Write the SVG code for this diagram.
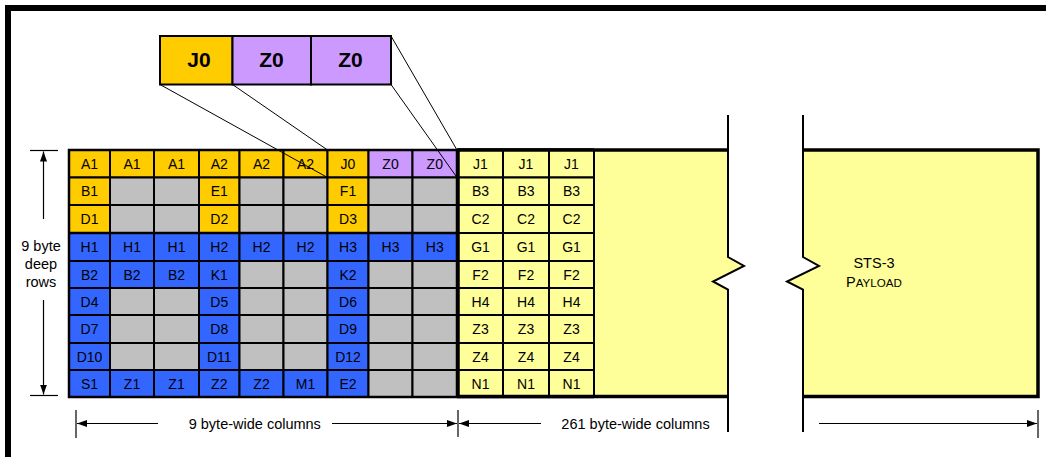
<svg xmlns="http://www.w3.org/2000/svg" width="1046" height="457" viewBox="0 0 1046 457">
<defs>
<style>
text{font-family:"Liberation Sans",Arial,sans-serif;fill:#000}
.t{font-size:14px;text-anchor:middle}
.d{font-size:14.5px}
.big{font-size:21px;font-weight:bold;text-anchor:middle}
rect.c{stroke:#000;stroke-width:2}
.g{fill:#FFCC00}.p{fill:#CC99FF}.b{fill:#3366FF}.e{fill:#C0C0C0}.y{fill:#FFFF99}
.thin{stroke:#000;stroke-width:1;fill:none}
.dim{stroke:#000;stroke-width:1.2;fill:none}
.brk{stroke:#000;stroke-width:2;fill:none}
.thick{stroke:#000;stroke-width:3.5;fill:none}
</style>
<marker id="arr" markerUnits="userSpaceOnUse" markerWidth="11" markerHeight="8" refX="10" refY="3.5" orient="auto"><path d="M0,0 L10,3.5 L0,7 Z" fill="#000"/></marker>
</defs>
<rect width="1046" height="457" fill="#fff"/>
<path d="M8,457 L8,8 L1046,8" stroke="#000" stroke-width="6" fill="none"/>

<g id="payload1">
<path class="y" d="M457,150 L728,150 L728,257 L744,266 L713,281.5 L728,289.5 L728,397 L457,397 Z"/>
<path class="thick" d="M457,150 L728,150 M457,396.5 L728,396.5"/>
<path class="brk" d="M728,115 L728,257 L744,266 L713,281.5 L728,289.5 L728,432"/>
</g>
<g id="payload2">
<path class="y" d="M803,150 L1038,150 L1038,396.5 L803,396.5 L803,289.5 L787,281.5 L819,266 L803,257 Z"/>
<path class="thick" d="M803,150 L1038,150 L1038,396.5 L803,396.5"/>
<path class="brk" d="M803,115 L803,257 L819,266 L787,281.5 L803,289.5 L803,432"/>
<text class="d" x="874" y="268" text-anchor="middle">STS-3</text>
<text x="874" y="287" text-anchor="middle" font-size="14.5">P<tspan font-size="11.6">AYLOAD</tspan></text>
</g>

<g id="zoombox">
<g id="zb-j0"><rect class="c g" x="160" y="36" width="72.5" height="48.5"/><text class="big" x="199" y="67">J0</text></g>
<g id="zb-z0a"><rect class="c p" x="232.5" y="36" width="78.5" height="48.5"/><text class="big" x="271.5" y="67">Z0</text></g>
<g id="zb-z0b"><rect class="c p" x="311" y="36" width="80" height="48.5"/><text class="big" x="350.5" y="67">Z0</text></g>
</g>

<g id="toh">
<g id="r1c1"><rect class="c g" x="69" y="150" width="41" height="27.5"/><text class="t" x="89.5" y="168.8">A1</text></g>
<g id="r1c2"><rect class="c g" x="110" y="150" width="44" height="27.5"/><text class="t" x="132" y="168.8">A1</text></g>
<g id="r1c3"><rect class="c g" x="154" y="150" width="45" height="27.5"/><text class="t" x="176.5" y="168.8">A1</text></g>
<g id="r1c4"><rect class="c g" x="199" y="150" width="40.5" height="27.5"/><text class="t" x="219.25" y="168.8">A2</text></g>
<g id="r1c5"><rect class="c g" x="239.5" y="150" width="44" height="27.5"/><text class="t" x="261.5" y="168.8">A2</text></g>
<g id="r1c6"><rect class="c g" x="283.5" y="150" width="44" height="27.5"/><text class="t" x="305.5" y="168.8">A2</text></g>
<g id="r1c7"><rect class="c g" x="327.5" y="150" width="41" height="27.5"/><text class="t" x="348" y="168.8">J0</text></g>
<g id="r1c8"><rect class="c p" x="368.5" y="150" width="44" height="27.5"/><text class="t" x="390.5" y="168.8">Z0</text></g>
<g id="r1c9"><rect class="c p" x="412.5" y="150" width="44.5" height="27.5"/><text class="t" x="434.75" y="168.8">Z0</text></g>

<g id="r2c1"><rect class="c g" x="69" y="177.5" width="41" height="27.5"/><text class="t" x="89.5" y="196.3">B1</text></g>
<g id="r2c2"><rect class="c e" x="110" y="177.5" width="44" height="27.5"/></g>
<g id="r2c3"><rect class="c e" x="154" y="177.5" width="45" height="27.5"/></g>
<g id="r2c4"><rect class="c g" x="199" y="177.5" width="40.5" height="27.5"/><text class="t" x="219.25" y="196.3">E1</text></g>
<g id="r2c5"><rect class="c e" x="239.5" y="177.5" width="44" height="27.5"/></g>
<g id="r2c6"><rect class="c e" x="283.5" y="177.5" width="44" height="27.5"/></g>
<g id="r2c7"><rect class="c g" x="327.5" y="177.5" width="41" height="27.5"/><text class="t" x="348" y="196.3">F1</text></g>
<g id="r2c8"><rect class="c e" x="368.5" y="177.5" width="44" height="27.5"/></g>
<g id="r2c9"><rect class="c e" x="412.5" y="177.5" width="44.5" height="27.5"/></g>

<g id="r3c1"><rect class="c g" x="69" y="205" width="41" height="28"/><text class="t" x="89.5" y="224">D1</text></g>
<g id="r3c2"><rect class="c e" x="110" y="205" width="44" height="28"/></g>
<g id="r3c3"><rect class="c e" x="154" y="205" width="45" height="28"/></g>
<g id="r3c4"><rect class="c g" x="199" y="205" width="40.5" height="28"/><text class="t" x="219.25" y="224">D2</text></g>
<g id="r3c5"><rect class="c e" x="239.5" y="205" width="44" height="28"/></g>
<g id="r3c6"><rect class="c e" x="283.5" y="205" width="44" height="28"/></g>
<g id="r3c7"><rect class="c g" x="327.5" y="205" width="41" height="28"/><text class="t" x="348" y="224">D3</text></g>
<g id="r3c8"><rect class="c e" x="368.5" y="205" width="44" height="28"/></g>
<g id="r3c9"><rect class="c e" x="412.5" y="205" width="44.5" height="28"/></g>

<g id="r4c1"><rect class="c b" x="69" y="233" width="41" height="28"/><text class="t" x="89.5" y="252">H1</text></g>
<g id="r4c2"><rect class="c b" x="110" y="233" width="44" height="28"/><text class="t" x="132" y="252">H1</text></g>
<g id="r4c3"><rect class="c b" x="154" y="233" width="45" height="28"/><text class="t" x="176.5" y="252">H1</text></g>
<g id="r4c4"><rect class="c b" x="199" y="233" width="40.5" height="28"/><text class="t" x="219.25" y="252">H2</text></g>
<g id="r4c5"><rect class="c b" x="239.5" y="233" width="44" height="28"/><text class="t" x="261.5" y="252">H2</text></g>
<g id="r4c6"><rect class="c b" x="283.5" y="233" width="44" height="28"/><text class="t" x="305.5" y="252">H2</text></g>
<g id="r4c7"><rect class="c b" x="327.5" y="233" width="41" height="28"/><text class="t" x="348" y="252">H3</text></g>
<g id="r4c8"><rect class="c b" x="368.5" y="233" width="44" height="28"/><text class="t" x="390.5" y="252">H3</text></g>
<g id="r4c9"><rect class="c b" x="412.5" y="233" width="44.5" height="28"/><text class="t" x="434.75" y="252">H3</text></g>

<g id="r5c1"><rect class="c b" x="69" y="261" width="41" height="27"/><text class="t" x="89.5" y="279.5">B2</text></g>
<g id="r5c2"><rect class="c b" x="110" y="261" width="44" height="27"/><text class="t" x="132" y="279.5">B2</text></g>
<g id="r5c3"><rect class="c b" x="154" y="261" width="45" height="27"/><text class="t" x="176.5" y="279.5">B2</text></g>
<g id="r5c4"><rect class="c b" x="199" y="261" width="40.5" height="27"/><text class="t" x="219.25" y="279.5">K1</text></g>
<g id="r5c5"><rect class="c e" x="239.5" y="261" width="44" height="27"/></g>
<g id="r5c6"><rect class="c e" x="283.5" y="261" width="44" height="27"/></g>
<g id="r5c7"><rect class="c b" x="327.5" y="261" width="41" height="27"/><text class="t" x="348" y="279.5">K2</text></g>
<g id="r5c8"><rect class="c e" x="368.5" y="261" width="44" height="27"/></g>
<g id="r5c9"><rect class="c e" x="412.5" y="261" width="44.5" height="27"/></g>

<g id="r6c1"><rect class="c b" x="69" y="288" width="41" height="27"/><text class="t" x="89.5" y="306.5">D4</text></g>
<g id="r6c2"><rect class="c e" x="110" y="288" width="44" height="27"/></g>
<g id="r6c3"><rect class="c e" x="154" y="288" width="45" height="27"/></g>
<g id="r6c4"><rect class="c b" x="199" y="288" width="40.5" height="27"/><text class="t" x="219.25" y="306.5">D5</text></g>
<g id="r6c5"><rect class="c e" x="239.5" y="288" width="44" height="27"/></g>
<g id="r6c6"><rect class="c e" x="283.5" y="288" width="44" height="27"/></g>
<g id="r6c7"><rect class="c b" x="327.5" y="288" width="41" height="27"/><text class="t" x="348" y="306.5">D6</text></g>
<g id="r6c8"><rect class="c e" x="368.5" y="288" width="44" height="27"/></g>
<g id="r6c9"><rect class="c e" x="412.5" y="288" width="44.5" height="27"/></g>

<g id="r7c1"><rect class="c b" x="69" y="315" width="41" height="28"/><text class="t" x="89.5" y="334">D7</text></g>
<g id="r7c2"><rect class="c e" x="110" y="315" width="44" height="28"/></g>
<g id="r7c3"><rect class="c e" x="154" y="315" width="45" height="28"/></g>
<g id="r7c4"><rect class="c b" x="199" y="315" width="40.5" height="28"/><text class="t" x="219.25" y="334">D8</text></g>
<g id="r7c5"><rect class="c e" x="239.5" y="315" width="44" height="28"/></g>
<g id="r7c6"><rect class="c e" x="283.5" y="315" width="44" height="28"/></g>
<g id="r7c7"><rect class="c b" x="327.5" y="315" width="41" height="28"/><text class="t" x="348" y="334">D9</text></g>
<g id="r7c8"><rect class="c e" x="368.5" y="315" width="44" height="28"/></g>
<g id="r7c9"><rect class="c e" x="412.5" y="315" width="44.5" height="28"/></g>

<g id="r8c1"><rect class="c b" x="69" y="343" width="41" height="27"/><text class="t" x="89.5" y="361.5">D10</text></g>
<g id="r8c2"><rect class="c e" x="110" y="343" width="44" height="27"/></g>
<g id="r8c3"><rect class="c e" x="154" y="343" width="45" height="27"/></g>
<g id="r8c4"><rect class="c b" x="199" y="343" width="40.5" height="27"/><text class="t" x="219.25" y="361.5">D11</text></g>
<g id="r8c5"><rect class="c e" x="239.5" y="343" width="44" height="27"/></g>
<g id="r8c6"><rect class="c e" x="283.5" y="343" width="44" height="27"/></g>
<g id="r8c7"><rect class="c b" x="327.5" y="343" width="41" height="27"/><text class="t" x="348" y="361.5">D12</text></g>
<g id="r8c8"><rect class="c e" x="368.5" y="343" width="44" height="27"/></g>
<g id="r8c9"><rect class="c e" x="412.5" y="343" width="44.5" height="27"/></g>

<g id="r9c1"><rect class="c b" x="69" y="370" width="41" height="27"/><text class="t" x="89.5" y="388.5">S1</text></g>
<g id="r9c2"><rect class="c b" x="110" y="370" width="44" height="27"/><text class="t" x="132" y="388.5">Z1</text></g>
<g id="r9c3"><rect class="c b" x="154" y="370" width="45" height="27"/><text class="t" x="176.5" y="388.5">Z1</text></g>
<g id="r9c4"><rect class="c b" x="199" y="370" width="40.5" height="27"/><text class="t" x="219.25" y="388.5">Z2</text></g>
<g id="r9c5"><rect class="c b" x="239.5" y="370" width="44" height="27"/><text class="t" x="261.5" y="388.5">Z2</text></g>
<g id="r9c6"><rect class="c b" x="283.5" y="370" width="44" height="27"/><text class="t" x="305.5" y="388.5">M1</text></g>
<g id="r9c7"><rect class="c b" x="327.5" y="370" width="41" height="27"/><text class="t" x="348" y="388.5">E2</text></g>
<g id="r9c8"><rect class="c e" x="368.5" y="370" width="44" height="27"/></g>
<g id="r9c9"><rect class="c e" x="412.5" y="370" width="44.5" height="27"/></g>
<rect x="69" y="150" width="388" height="247" fill="none" stroke="#000" stroke-width="2.5"/>
<line x1="69" y1="233" x2="457" y2="233" stroke="#000" stroke-width="2.5"/>
</g>

<g id="poh">
<g id="p1a"><rect class="c y" x="458" y="150" width="45" height="27.5"/><text class="t" x="480.5" y="168.8">J1</text></g>
<g id="p1b"><rect class="c y" x="503" y="150" width="46" height="27.5"/><text class="t" x="526" y="168.8">J1</text></g>
<g id="p1c"><rect class="c y" x="549" y="150" width="45" height="27.5"/><text class="t" x="571.5" y="168.8">J1</text></g>
<g id="p2a"><rect class="c y" x="458" y="177.5" width="45" height="27.5"/><text class="t" x="480.5" y="196.3">B3</text></g>
<g id="p2b"><rect class="c y" x="503" y="177.5" width="46" height="27.5"/><text class="t" x="526" y="196.3">B3</text></g>
<g id="p2c"><rect class="c y" x="549" y="177.5" width="45" height="27.5"/><text class="t" x="571.5" y="196.3">B3</text></g>
<g id="p3a"><rect class="c y" x="458" y="205" width="45" height="28"/><text class="t" x="480.5" y="224">C2</text></g>
<g id="p3b"><rect class="c y" x="503" y="205" width="46" height="28"/><text class="t" x="526" y="224">C2</text></g>
<g id="p3c"><rect class="c y" x="549" y="205" width="45" height="28"/><text class="t" x="571.5" y="224">C2</text></g>
<g id="p4a"><rect class="c y" x="458" y="233" width="45" height="28"/><text class="t" x="480.5" y="252">G1</text></g>
<g id="p4b"><rect class="c y" x="503" y="233" width="46" height="28"/><text class="t" x="526" y="252">G1</text></g>
<g id="p4c"><rect class="c y" x="549" y="233" width="45" height="28"/><text class="t" x="571.5" y="252">G1</text></g>
<g id="p5a"><rect class="c y" x="458" y="261" width="45" height="27"/><text class="t" x="480.5" y="279.5">F2</text></g>
<g id="p5b"><rect class="c y" x="503" y="261" width="46" height="27"/><text class="t" x="526" y="279.5">F2</text></g>
<g id="p5c"><rect class="c y" x="549" y="261" width="45" height="27"/><text class="t" x="571.5" y="279.5">F2</text></g>
<g id="p6a"><rect class="c y" x="458" y="288" width="45" height="27"/><text class="t" x="480.5" y="306.5">H4</text></g>
<g id="p6b"><rect class="c y" x="503" y="288" width="46" height="27"/><text class="t" x="526" y="306.5">H4</text></g>
<g id="p6c"><rect class="c y" x="549" y="288" width="45" height="27"/><text class="t" x="571.5" y="306.5">H4</text></g>
<g id="p7a"><rect class="c y" x="458" y="315" width="45" height="28"/><text class="t" x="480.5" y="334">Z3</text></g>
<g id="p7b"><rect class="c y" x="503" y="315" width="46" height="28"/><text class="t" x="526" y="334">Z3</text></g>
<g id="p7c"><rect class="c y" x="549" y="315" width="45" height="28"/><text class="t" x="571.5" y="334">Z3</text></g>
<g id="p8a"><rect class="c y" x="458" y="343" width="45" height="27"/><text class="t" x="480.5" y="361.5">Z4</text></g>
<g id="p8b"><rect class="c y" x="503" y="343" width="46" height="27"/><text class="t" x="526" y="361.5">Z4</text></g>
<g id="p8c"><rect class="c y" x="549" y="343" width="45" height="27"/><text class="t" x="571.5" y="361.5">Z4</text></g>
<g id="p9a"><rect class="c y" x="458" y="370" width="45" height="27"/><text class="t" x="480.5" y="388.5">N1</text></g>
<g id="p9b"><rect class="c y" x="503" y="370" width="46" height="27"/><text class="t" x="526" y="388.5">N1</text></g>
<g id="p9c"><rect class="c y" x="549" y="370" width="45" height="27"/><text class="t" x="571.5" y="388.5">N1</text></g>
<path class="thick" d="M458,150 L594,150 M458,150 L458,397 M458,396.5 L594,396.5"/>
</g>

<g id="labels">
<text class="d" x="41" y="251" text-anchor="middle">9 byte</text>
<text class="d" x="41" y="269" text-anchor="middle">deep</text>
<text class="d" x="41" y="287" text-anchor="middle">rows</text>
<text class="d" x="254.8" y="428.5" text-anchor="middle">9 byte-wide columns</text>
<text class="d" x="635.5" y="428.5" text-anchor="middle">261 byte-wide columns</text>
</g>

<g id="connectors">
<line class="thin" x1="160" y1="84.5" x2="327.5" y2="177.5"/>
<line class="thin" x1="232.5" y1="84.5" x2="327.5" y2="150"/>
<line class="thin" x1="391" y1="84.5" x2="457" y2="177.5"/>
<line class="thin" x1="391" y1="36" x2="457" y2="150"/>
<line class="dim" x1="30" y1="150.5" x2="58" y2="150.5"/>
<line class="dim" x1="30" y1="395.5" x2="58" y2="395.5"/>
<line class="dim" x1="43.5" y1="219" x2="43.5" y2="151.5" marker-end="url(#arr)"/>
<line class="dim" x1="43.5" y1="300" x2="43.5" y2="394.5" marker-end="url(#arr)"/>
<line class="dim" x1="76" y1="410" x2="76" y2="438"/>
<line class="dim" x1="458" y1="410" x2="458" y2="437"/>
<line class="dim" x1="1038" y1="410" x2="1038" y2="438"/>
<line class="dim" x1="158" y1="423.5" x2="77" y2="423.5" marker-end="url(#arr)"/>
<line class="dim" x1="332" y1="423.5" x2="457" y2="423.5" marker-end="url(#arr)"/>
<line class="dim" x1="541" y1="423.5" x2="459" y2="423.5" marker-end="url(#arr)"/>
<line class="dim" x1="819" y1="423.5" x2="1037" y2="423.5" marker-end="url(#arr)"/>
</g>
</svg>
